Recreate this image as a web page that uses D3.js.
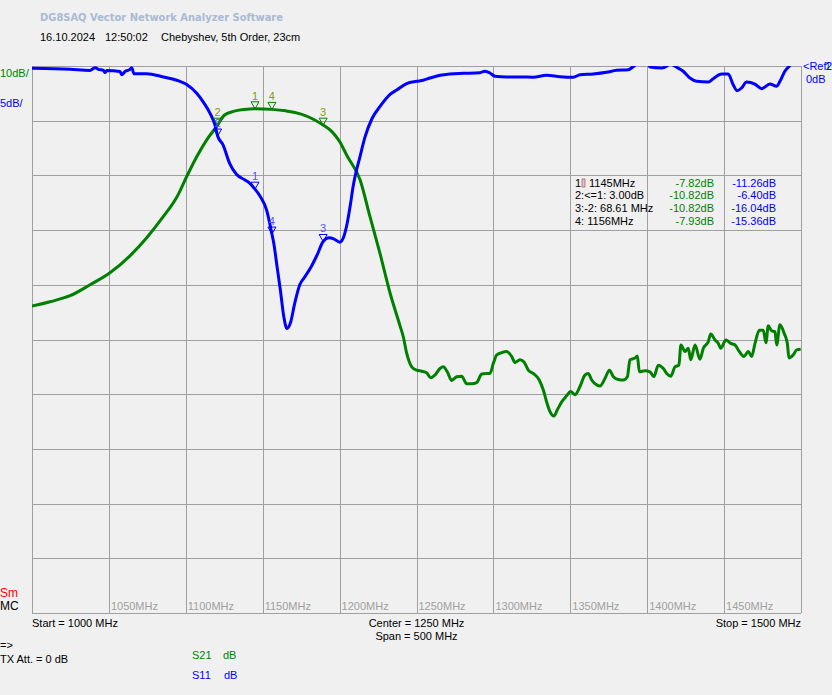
<!DOCTYPE html>
<html lang="en">
<head>
	<meta charset="UTF-8">
	<title>DG8SAQ VNA - Chebyshev 5th Order</title>
<script src="https://cdn.jsdelivr.net/npm/d3@7"></script>
<style>
  body { margin:0; background-color:#F0F0F0; }
  text { font-family: "Liberation Sans", Arial, sans-serif; font-size: 11px; }
</style>
</head>
<body>

<script type="text/javascript">

// frequency axis (MHz) and grid
var fStart = 1000, fStop = 1500;
var freqTicks = [1050, 1100, 1150, 1200, 1250, 1300, 1350, 1400, 1450];
var s21Ref = 0, s21Div = 10;   // dB, dB/div
var s11Ref = 0, s11Div = 5;

// S21 trace [MHz, dB]
var s21 = [
  [1000,-43.9],[1011.7,-43.1],[1024.7,-42.0],[1037.7,-40.0],[1050.7,-37.8],[1063.7,-34.7],
  [1074.6,-31.4],[1085.2,-27.6],[1094.1,-24.0],[1100.6,-20.2],[1107.1,-16.6],[1113.6,-13.5],
  [1120.7,-10.8],[1125,-9.0],[1131,-8.3],[1138,-7.95],[1145,-7.82],[1156,-7.93],[1165,-8.2],
  [1175,-8.8],[1189.3,-10.8],[1195,-12.0],[1200,-13.8],[1205,-16.5],[1213.3,-20.8],
  [1219.8,-27.6],[1226.2,-34.2],[1232.8,-41.5],[1239.3,-47.5],[1241.4,-49.5],[1243.6,-52.5],
  [1246.9,-55.0],[1250.1,-55.6],[1253.4,-55.8],[1256.6,-56.1],[1259.2,-57.0],[1262.0,-56.5],
  [1265.3,-55.3],[1267.4,-55.0],[1270.0,-55.9],[1272.9,-57.5],[1276.1,-56.8],[1279.4,-56.7],
  [1282.6,-58.1],[1285.9,-58.1],[1289.1,-57.9],[1292.4,-56.3],[1295.2,-56.2],[1297.8,-56.2],
  [1299.9,-54.4],[1302.2,-52.8],[1305.4,-52.4],[1308.6,-52.2],[1311.9,-53.1],[1314.0,-54.2],
  [1317.3,-53.7],[1319.9,-54.1],[1322.7,-55.6],[1325.9,-56.2],[1329.8,-57.4],[1332.4,-59.2],
  [1334.6,-61.4],[1336.8,-63.2],[1339.4,-64.0],[1341.5,-62.9],[1344.4,-61.4],[1347.6,-60.3],
  [1350.2,-59.5],[1353.0,-60.1],[1356.3,-58.6],[1359.5,-56.5],[1361.7,-56.2],[1363.9,-57.4],
  [1367.2,-58.3],[1369.3,-58.5],[1372.6,-57.1],[1375.4,-55.6],[1378.0,-56.8],[1381.2,-57.3],
  [1384.5,-57.4],[1387.1,-56.8],[1388.8,-53.7],[1392.1,-53.4],[1393.6,-53.0],[1394.9,-55.9],
  [1398.6,-55.7],[1401.8,-55.9],[1404.4,-56.8],[1407.2,-54.7],[1410.5,-55.3],[1412.7,-56.2],
  [1415.3,-56.7],[1418.1,-55.0],[1420.6,-54.7],[1421.9,-51.0],[1424.6,-52.2],[1426.7,-51.6],
  [1428.3,-53.7],[1431.1,-51.0],[1434.3,-53.6],[1436.5,-51.6],[1439.7,-50.4],[1441.3,-49.0],
  [1444.1,-50.1],[1446.2,-50.7],[1447.8,-51.6],[1451.2,-50.1],[1454.3,-50.7],[1457.1,-51.0],
  [1459.9,-52.2],[1462.9,-53.1],[1465.7,-52.2],[1467.9,-53.1],[1470.1,-50.7],[1472.9,-48.3],
  [1475.5,-48.3],[1477.2,-50.6],[1478.7,-47.5],[1480.9,-48.4],[1483.1,-48.6],[1484.2,-51.0],
  [1486.3,-47.3],[1489.1,-48.9],[1491.1,-50.7],[1492.2,-53.4],[1495.0,-52.8],[1497.2,-51.9],
  [1499.8,-51.8]
];

// S11 trace [MHz, dB]
var s11 = [
  [1000,-0.2],[1024.7,-0.3],[1037.7,-0.4],[1041.0,-0.15],[1043.1,-0.3],[1046.4,-0.4],[1047.5,-0.6],
  [1048.6,-0.4],[1057.2,-0.5],[1058.3,-0.8],[1060.5,-0.5],[1063.7,-0.3],[1064.8,-0.15],[1066.3,-0.7],
  [1074.6,-0.7],[1085.4,-1.0],[1094.1,-1.3],[1100.6,-1.7],[1107.1,-2.5],[1111.4,-3.3],[1115.7,-4.3],
  [1119.0,-5.4],[1120.7,-6.4],[1124.2,-7.2],[1128.5,-8.9],[1132.9,-9.9],[1138.3,-10.4],[1141.5,-10.7],
  [1145,-11.26],[1148.3,-11.9],[1152.6,-13.2],[1156,-15.36],[1157.2,-16.2],[1159.3,-18.3],
  [1161.5,-20.5],[1163.7,-22.9],[1165.8,-24.0],[1168.0,-23.5],[1170.8,-21.7],[1174.1,-20.0],
  [1177.3,-19.3],[1181.7,-18.3],[1185.3,-17.3],[1189.3,-16.04],[1193.1,-15.7],[1196.2,-15.8],
  [1200.1,-16.1],[1202.7,-15.6],[1204.9,-14.4],[1207.1,-12.6],[1208.8,-11.0],[1210.5,-9.8],
  [1212.7,-8.6],[1216.5,-6.5],[1221.1,-4.8],[1226.3,-3.7],[1232.8,-2.6],[1237.1,-2.2],[1243.6,-1.6],
  [1250.1,-1.4],[1254.4,-1.3],[1258.8,-1.1],[1265.3,-0.85],[1271.8,-0.73],[1280.4,-0.67],
  [1291.3,-0.61],[1294.5,-0.48],[1297.8,-0.64],[1301.0,-0.94],[1308.6,-1.0],[1317.3,-1.0],
  [1325.9,-1.03],[1334.6,-0.85],[1343.3,-0.98],[1351.9,-1.03],[1356.3,-0.8],[1364.9,-0.73],
  [1373.6,-0.58],[1380.1,-0.39],[1387.7,-0.34],[1392.0,0.06],[1396.6,0.37],[1400.5,0.2],
  [1401.8,-0.09],[1409.4,-0.18],[1412.6,-0.03],[1414.8,0.27],[1418.0,-0.03],[1423.4,-0.48],
  [1427.8,-1.1],[1432.1,-1.4],[1439.7,-1.46],[1442.9,-1.16],[1448.4,-0.73],[1452.7,-0.73],
  [1455.9,-1.71],[1458.5,-2.26],[1461.4,-2.0],[1464.6,-1.46],[1470.0,-1.65],[1474.4,-2.07],
  [1479.8,-1.65],[1484.1,-1.86],[1486.3,-1.4],[1489.5,-0.48],[1492.3,-0.03],[1496.0,0.55],[1500,1.0]
];

// markers
var mkNames = ["1", "2", "3", "4"];
var mkFreq = [1145, 1120.7, 1189.3, 1156];
var mkS21 = [-7.82, -10.82, -10.82, -7.93];
var mkS11 = [-11.26, -6.40, -16.04, -15.36];
var mkLabels = ["1", "2:<=1:  3.00dB", "3:-2:  68.61 MHz", "4:  1156MHz"];
var mkLabels2 = ["1145MHz", "", "", ""];
var mkS21Txt = ["-7.82dB", "-10.82dB", "-10.82dB", "-7.93dB"];
var mkS11Txt = ["-11.26dB", "-6.40dB", "-16.04dB", "-15.36dB"];

var green = "#008000", blue = "#0000FF", gray = "#A0A0A0";
var plot = { left: 32, right: 801, top: 66, bottom: 613 };

function main () {

  var svg = d3.select('body').append('svg')
    .attr('width', 832)
    .attr('height', 695);

  var x = d3.scaleLinear().domain([fStart, fStop]).range([plot.left, plot.right]);
  var y21 = d3.scaleLinear().domain([s21Ref, s21Ref - 10 * s21Div]).range([plot.top, plot.bottom]);
  var y11 = d3.scaleLinear().domain([s11Ref, s11Ref - 10 * s11Div]).range([plot.top, plot.bottom]);

  // header
  svg.append('text').attr('x', 40).attr('y', 21)
    .style('font-family', '"DejaVu Sans", Verdana, sans-serif')
    .style('font-weight', 'bold').style('font-size', '11px')
    .attr('textLength', 243).attr('lengthAdjust', 'spacingAndGlyphs')
    .style('fill', '#A8BAD4').text('DG8SAQ Vector Network Analyzer Software');
  svg.append('text').attr('x', 40).attr('y', 41).text('16.10.2024');
  svg.append('text').attr('x', 105).attr('y', 41).text('12:50:02');
  svg.append('text').attr('x', 161).attr('y', 41).text('Chebyshev, 5th Order, 23cm');

  // grid
  var g = svg.append('g');
  var xGrid = d3.range(fStart, fStop + 1, 50);
  g.selectAll('line.vx').data(xGrid).enter().append('line')
    .attr('x1', function (d) { return Math.round(x(d)) + 0.5; })
    .attr('x2', function (d) { return Math.round(x(d)) + 0.5; })
    .attr('y1', plot.top).attr('y2', plot.bottom)
    .style('stroke', gray).style('stroke-width', 1);
  var yGrid = d3.range(0, 11).map(function (i) { return s21Ref - i * s21Div; });
  g.selectAll('line.hy').data(yGrid).enter().append('line')
    .attr('y1', function (d) { return Math.round(y21(d)) + 0.5; })
    .attr('y2', function (d) { return Math.round(y21(d)) + 0.5; })
    .attr('x1', plot.left).attr('x2', plot.right)
    .style('stroke', gray).style('stroke-width', 1);

  // frequency labels inside the plot
  g.selectAll('text.fl').data(freqTicks).enter().append('text')
    .attr('x', function (d) { return x(d) + 2; })
    .attr('y', 610)
    .style('fill', gray)
    .text(function (d) { return d + 'MHz'; });

  // traces
  svg.append('clipPath').attr('id', 'clip').append('rect')
    .attr('x', plot.left).attr('y', plot.top)
    .attr('width', plot.right - plot.left).attr('height', plot.bottom - plot.top);

  var tr = svg.append('g').attr('clip-path', 'url(#clip)');
  tr.append('path').datum(s21)
    .attr('d', d3.line().curve(d3.curveMonotoneX)
      .x(function (d) { return x(d[0]); }).y(function (d) { return y21(d[1]); }))
    .style('fill', 'none').style('stroke', green).style('stroke-width', 3)
    .style('stroke-linejoin', 'round');
  tr.append('path').datum(s11)
    .attr('d', d3.line().curve(d3.curveMonotoneX)
      .x(function (d) { return x(d[0]); }).y(function (d) { return y11(d[1]); }))
    .style('fill', 'none').style('stroke', blue).style('stroke-width', 3)
    .style('stroke-linejoin', 'round');

  // marker triangles
  function drawMarkers (yScale, vals, stroke, numColor) {
    mkFreq.forEach(function (f, i) {
      var px = x(f), py = yScale(vals[i]);
      svg.append('path')
        .attr('d', 'M' + (px - 4) + ',' + (py - 7) + 'L' + (px + 4) + ',' + (py - 7) + 'L' + px + ',' + py + 'Z')
        .style('fill', 'none').style('stroke', stroke).style('stroke-width', 1);
      svg.append('text').attr('x', px).attr('y', py - 9)
        .attr('text-anchor', 'middle').style('fill', numColor)
        .text(mkNames[i]);
    });
  }
  drawMarkers(y21, mkS21, green, '#7FA000');
  drawMarkers(y11, mkS11, blue, '#5050FF');

  // marker table
  var rowY = [187, 199, 212, 225];
  mkLabels.forEach(function (t, i) {
    svg.append('text').attr('x', 575).attr('y', rowY[i]).text(t);
    svg.append('text').attr('x', 714).attr('y', rowY[i]).attr('text-anchor', 'end')
      .style('fill', green).text(mkS21Txt[i]);
    svg.append('text').attr('x', 776).attr('y', rowY[i]).attr('text-anchor', 'end')
      .style('fill', blue).text(mkS11Txt[i]);
  });
  svg.append('rect').attr('x', 582).attr('y', 179).attr('width', 3).attr('height', 8)
    .style('fill', '#D8C8C8').style('stroke', '#B05050').style('stroke-width', 0.7);
  svg.append('text').attr('x', 589).attr('y', rowY[0]).text(mkLabels2[0]);

  // scale labels
  svg.append('text').attr('x', 0).attr('y', 77).style('fill', green).text(s21Div + 'dB/');
  svg.append('text').attr('x', 0).attr('y', 107).style('fill', blue).text(s11Div + 'dB/');
  svg.append('text').attr('x', 803).attr('y', 70).style('fill', blue).text('<Ref');
  svg.append('text').attr('x', 825).attr('y', 70).style('fill', green).text('1');
  svg.append('text').attr('x', 826).attr('y', 70).style('fill', blue).text('2');
  svg.append('text').attr('x', 806).attr('y', 83).style('fill', blue).text(s21Ref + 'dB');

  svg.append('text').attr('x', 0).attr('y', 597).style('fill', '#FF0000').style('font-size', '12px').text('Sm');
  svg.append('text').attr('x', 0).attr('y', 610).style('font-size', '12px').text('MC');

  // bottom info
  var mid = (plot.left + plot.right) / 2;
  svg.append('text').attr('x', plot.left).attr('y', 627).text('Start = ' + fStart + ' MHz');
  svg.append('text').attr('x', mid).attr('y', 627).attr('text-anchor', 'middle')
    .text('Center = ' + (fStart + fStop) / 2 + ' MHz');
  svg.append('text').attr('x', mid).attr('y', 640).attr('text-anchor', 'middle')
    .text('Span = ' + (fStop - fStart) + ' MHz');
  svg.append('text').attr('x', plot.right).attr('y', 627).attr('text-anchor', 'end')
    .text('Stop = ' + fStop + ' MHz');

  svg.append('text').attr('x', 0).attr('y', 649).text('=>');
  svg.append('text').attr('x', 0).attr('y', 663).text('TX Att.  = 0 dB');
  svg.append('text').attr('x', 192).attr('y', 659).style('fill', green).text('S21');
  svg.append('text').attr('x', 223).attr('y', 659).style('fill', green).text('dB');
  svg.append('text').attr('x', 192).attr('y', 679).style('fill', blue).text('S11');
  svg.append('text').attr('x', 224).attr('y', 679).style('fill', blue).text('dB');
}

window.addEventListener('load', main);

</script>

</body>
</html>
